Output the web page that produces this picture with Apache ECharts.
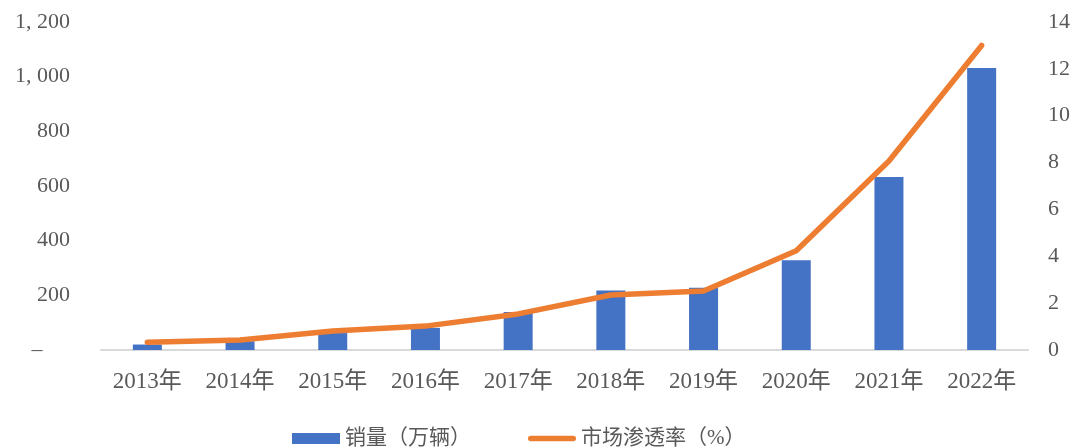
<!DOCTYPE html>
<html>
<head>
<meta charset="utf-8">
<script src="https://cdn.jsdelivr.net/npm/echarts@6/dist/echarts.min.js"></script>
<style>
  html, body { margin: 0; padding: 0; background: #fff; }
  #chart { width: 1075px; height: 447px; }
</style>
</head>
<body>
<div id="chart"></div>
<script>
const years = ['2013年', '2014年', '2015年', '2016年', '2017年', '2018年', '2019年', '2020年', '2021年', '2022年']
const sales = [20, 32, 62, 81, 139, 218, 228, 328, 633, 1032]
const penetration = [0.33, 0.43, 0.81, 1.02, 1.54, 2.35, 2.52, 4.24, 8.07, 13.0]

const FONT = '"Liberation Serif", "Noto Sans CJK SC", serif'
const TEXT = '#595959'

const chart = echarts.init(document.getElementById('chart'))

chart.setOption({
  animation: false,
  textStyle: { fontFamily: FONT },
  grid: { left: 101, right: 47, top: 22, bottom: 97 },
  legend: {
    left: 287,
    bottom: -7,
    itemWidth: 48,
    itemHeight: 11,
    itemGap: 57,
    textStyle: { color: TEXT, fontSize: 21, fontFamily: FONT },
    data: [
      { name: '销量（万辆）', icon: 'rect' },
      { name: '市场渗透率（%）', icon: 'path://M3,0 L49,0 A3,3 0 0 1 49,6 L3,6 A3,3 0 0 1 3,0 Z' }
    ]
  },
  xAxis: {
    type: 'category',
    data: years,
    axisLine: { lineStyle: { color: '#d9d9d9', width: 2 } },
    axisTick: { show: false },
    axisLabel: { color: TEXT, fontSize: 23, margin: 20, fontFamily: FONT }
  },
  yAxis: [
    {
      type: 'value',
      min: 0,
      max: 1200,
      interval: 200,
      splitLine: { show: false },
      axisLine: { show: false },
      axisTick: { show: false },
      axisLabel: {
        color: TEXT,
        fontSize: 22,
        margin: 31,
        fontFamily: FONT,
        formatter: v => v === 0 ? '–     ' : v.toLocaleString('en-US').replace(',', ', ')
      }
    },
    {
      type: 'value',
      min: 0,
      max: 14,
      interval: 2,
      splitLine: { show: false },
      axisLine: { show: false },
      axisTick: { show: false },
      axisLabel: { color: TEXT, fontSize: 22, margin: 20, fontFamily: FONT }
    }
  ],
  series: [
    {
      name: '销量（万辆）',
      type: 'bar',
      data: sales,
      barWidth: 29,
      itemStyle: { color: '#4472C4' }
    },
    {
      name: '市场渗透率（%）',
      type: 'line',
      yAxisIndex: 1,
      data: penetration,
      symbol: 'none',
      lineStyle: { color: '#ED7D31', width: 5.5, cap: 'round', join: 'round' },
      itemStyle: { color: '#ED7D31' }
    }
  ]
})
</script>
</body>
</html>
